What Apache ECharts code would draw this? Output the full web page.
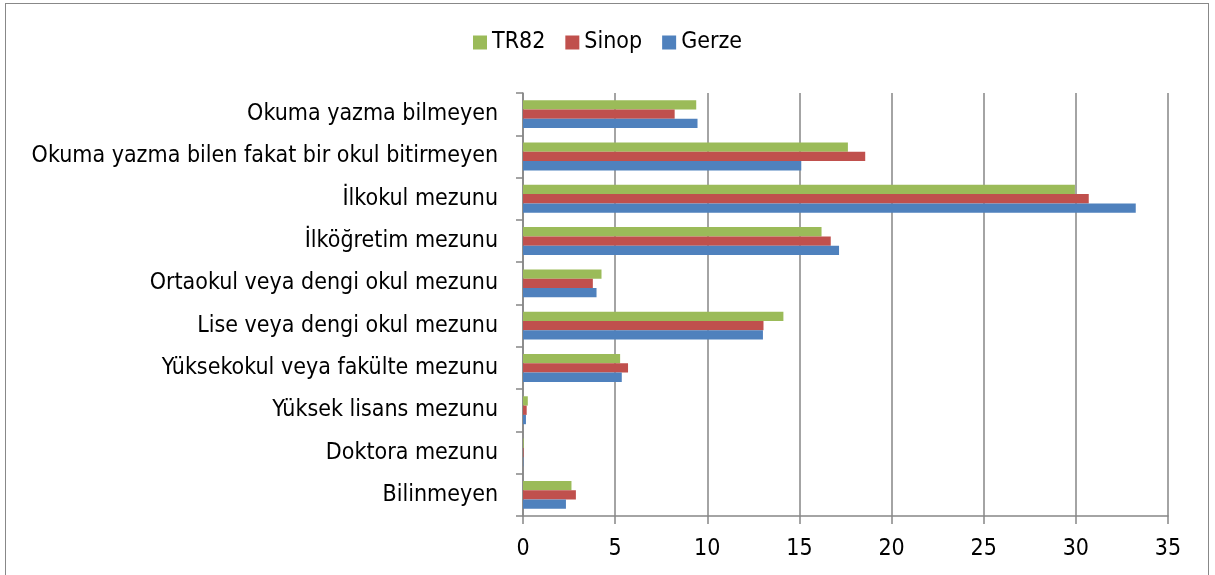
<!DOCTYPE html>
<html>
<head>
<meta charset="utf-8">
<script src="https://cdn.jsdelivr.net/npm/echarts@6/dist/echarts.min.js"></script>
<style>
  html, body { margin: 0; padding: 0; background: #fff; }
  #frame { position: absolute; left: 5px; top: 3px; width: 1204px; height: 600px; border: 1px solid #888; box-sizing: border-box; }
  #main { position: absolute; left: 0; top: 0; width: 1215px; height: 575px; }
</style>
</head>
<body>
<div id="frame"></div>
<div id="main"></div>
<script type="text/javascript">
// egitim durumu kategorileri (yukaridan asagi)
var categories = [
    'Okuma yazma bilmeyen',
    'Okuma yazma bilen fakat bir okul bitirmeyen',
    'İlkokul mezunu',
    'İlköğretim mezunu',
    'Ortaokul veya dengi okul mezunu',
    'Lise veya dengi okul mezunu',
    'Yüksekokul veya fakülte mezunu',
    'Yüksek lisans mezunu',
    'Doktora mezunu',
    'Bilinmeyen'
];
var tr82  = [9.40, 17.63, 29.95, 16.20, 4.26, 14.13, 5.27, 0.26, 0.04, 2.63];
var sinop = [8.23, 18.57, 30.70, 16.70, 3.79, 13.05, 5.70, 0.20, 0.03, 2.87];
var gerze = [9.47, 15.10, 33.25, 17.15, 3.99, 13.02, 5.36, 0.16, 0.02, 2.33];
var xTicks = [0, 35, 5]; // min, max, interval

var fontName = '"DejaVu Sans Condensed", "DejaVu Sans", sans-serif';

var chart = echarts.init(document.getElementById('main'));
var option = {
    animation: false,
    color: ['#9BBB59', '#C0504D', '#4F81BD'],
    legend: {
        top: 26,
        left: 'center',
        itemWidth: 14,
        itemHeight: 14,
        itemGap: 20,
        icon: 'rect',
        textStyle: { fontFamily: fontName, fontSize: 23, color: '#000' },
        data: ['TR82', 'Sinop', 'Gerze']
    },
    grid: { left: 523, right: 47, top: 93, bottom: 59, containLabel: false },
    xAxis: {
        type: 'value',
        min: xTicks[0],
        max: xTicks[1],
        interval: xTicks[2],
        axisLine: { show: true, lineStyle: { color: '#868686', width: 1.5 } },
        axisTick: { show: true, length: 8, lineStyle: { color: '#868686', width: 1.5 } },
        axisLabel: { margin: 22, fontFamily: fontName, fontSize: 23, color: '#000' },
        splitLine: { show: true, lineStyle: { color: '#868686', width: 1.5 } }
    },
    yAxis: {
        type: 'category',
        inverse: true,
        data: categories,
        axisLine: { show: true, lineStyle: { color: '#868686', width: 1.5 } },
        axisTick: { show: true, length: 7, alignWithLabel: false, lineStyle: { color: '#868686', width: 1.5 } },
        axisLabel: { margin: 25, fontFamily: fontName, fontSize: 23, color: '#000', padding: [4, 0, 0, 0] }
    },
    series: [
        { name: 'TR82', type: 'bar', data: tr82, barGap: 0, barCategoryGap: '34%' },
        { name: 'Sinop', type: 'bar', data: sinop, barGap: 0, barCategoryGap: '34%' },
        { name: 'Gerze', type: 'bar', data: gerze, barGap: 0, barCategoryGap: '34%' }
    ]
};
chart.setOption(option);
</script>
</body>
</html>
